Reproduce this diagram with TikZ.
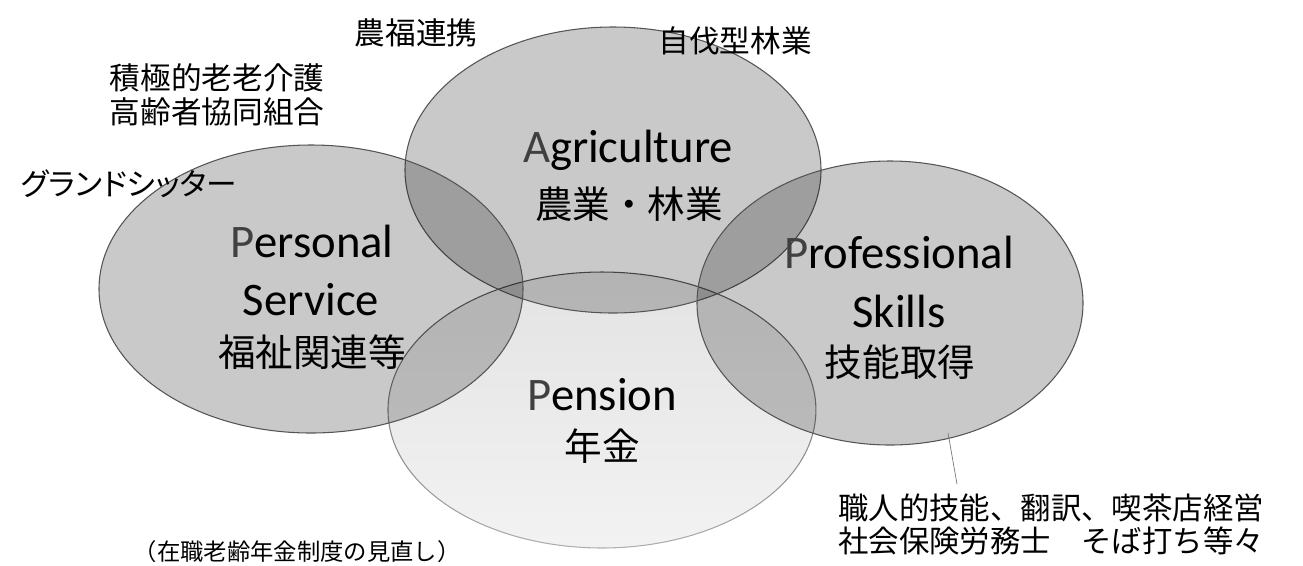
\documentclass[tikz,border=0pt]{standalone}
\usepackage{fontspec}
\setmainfont{Carlito}
\newfontfamily\jp{Noto Sans CJK JP}
\newfontfamily\jpp[RawFeature=+palt]{Noto Sans CJK JP}
\usetikzlibrary{fadings}
\tikzfading[name=penfade, top color=transparent!0, bottom color=transparent!55]
\definecolor{initc}{HTML}{404040}
\definecolor{edgec}{HTML}{555555}
\tikzset{
  venn/.style={draw=edgec, line width=0.8pt, fill=black, fill opacity=0.21},
  pens/.style={draw=edgec, line width=0.8pt, fill=black, fill opacity=0.11, path fading=penfade, fit fading=true},
  big/.style={anchor=base, inner sep=0pt, font=\fontsize{35}{40}\selectfont},
  bigjp/.style={anchor=base, inner sep=0pt, font=\jp\fontsize{28.2}{32}\selectfont},
  small/.style={anchor=base, inner sep=0pt, font=\jp\fontsize{23}{27}\selectfont},
  smallleft/.style={anchor=base west, inner sep=0pt, font=\jp\fontsize{22.8}{27}\selectfont},
  note/.style={anchor=base, inner sep=0pt, font=\jp\fontsize{17.5}{20}\selectfont},
  lead/.style={draw=black!55, line width=0.5pt}
}
\newcommand{\ini}[1]{\textcolor{initc}{#1}}
\begin{document}
\begin{tikzpicture}[x=0.75pt,y=-0.75pt]
\useasboundingbox (0,0) rectangle (1303,565);
% ellipse centres
\coordinate (cpen) at (602,410);
\coordinate (cagr) at (613,170);
\coordinate (cper) at (311,289);
\coordinate (cpro) at (890,303);
% ellipses
\path[pens] (cpen) ellipse [x radius=160.5pt, y radius=103.5pt];
\path[venn] (cagr) ellipse [x radius=156pt, y radius=107.25pt];
\path[venn] (cper) ellipse [x radius=159pt, y radius=108pt];
\path[venn] (cpro) ellipse [x radius=144.75pt, y radius=106.5pt];
% main labels
\node[big] (agr1) at (628,162) {\ini{A}griculture};
\node[bigjp] (agr2) at (629,218) {農業・林業};
\node[big] (per1) at (312,257) {\ini{P}ersonal};
\node[big] (per2) at (311,315) {Service};
\node[bigjp] (per3) at (312,366) {福祉関連等};
\node[big] (pro1) at (899,268) {\ini{P}rofessional};
\node[big] (pro2) at (899,327) {Skills};
\node[bigjp] (pro3) at (900,376) {技能取得};
\node[big] (pen1) at (602,410) {\ini{P}ension};
\node[bigjp] (pen2) at (602,460) {年金};
% side notes
\node[small] (n1) at (416,44) {農福連携};
\node[small] (n2) at (735,52) {自伐型林業};
\node[small] (n3) at (217,89) {積極的老老介護};
\node[small] (n4) at (217,123) {高齢者協同組合};
\node[small, font=\jpp\fontsize{23}{27}\selectfont] (n5) at (129,195) {グランドシッター};
\node[smallleft] (n6) at (838,519) {職人的技能、翻訳、喫茶店経営};
\node[smallleft] (n7) at (838,552) {社会保険労務士　そば打ち等々};
\node[note] (n8) at (297,560) {（在職老齢年金制度の見直し）};
% leader line
\coordinate (ls) at (948,433);
\coordinate (le) at (957,484);
\draw[lead] (ls) -- (le);
\end{tikzpicture}
\end{document}
